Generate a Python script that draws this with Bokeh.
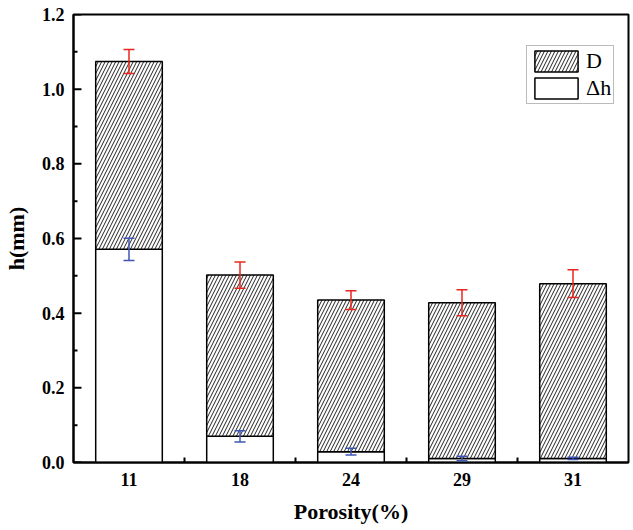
from bokeh.plotting import figure
from bokeh.models import (ColumnDataSource, Whisker, FixedTicker, Legend, LegendItem,
                          Range1d, TeeHead)
from bokeh.embed import file_html
from bokeh.resources import INLINE

# ---- data ----
porosity = ["11", "18", "24", "29", "31"]
dh = [0.571, 0.070, 0.029, 0.011, 0.011]          # Δh
dh_err = [0.030, 0.015, 0.009, 0.006, 0.003]
D = [0.503, 0.432, 0.406, 0.417, 0.468]            # D (stacked on Δh)
D_err = [0.032, 0.035, 0.025, 0.035, 0.037]
y_ticks = [0.0, 0.2, 0.4, 0.6, 0.8, 1.0, 1.2]
y_minor = [0.1, 0.3, 0.5, 0.7, 0.9, 1.1]
x_minor = [0.5, 1.5, 2.5, 3.5]

xs = list(range(len(porosity)))
total = [a + b for a, b in zip(dh, D)]

src = ColumnDataSource(dict(
    x=xs, dh=dh, total=total,
    dh_up=[a + e for a, e in zip(dh, dh_err)], dh_lo=[a - e for a, e in zip(dh, dh_err)],
    t_up=[a + e for a, e in zip(total, D_err)], t_lo=[a - e for a, e in zip(total, D_err)],
))

SERIF = "Liberation Serif"
X0, X1 = -0.5, 4.5
Y0, Y1 = 0.0, 1.2
W, H = 633, 530
BL, BR, BT, BB = 72, 5, 14, 68
px_x = (W - BL - BR) / (X1 - X0)     # pixels per x unit
px_y = (H - BT - BB) / (Y1 - Y0)     # pixels per y unit

p = figure(width=W, height=H, output_backend="svg", toolbar_location=None,
           x_range=Range1d(X0, X1), y_range=Range1d(Y0, Y1),
           min_border_left=BL, min_border_right=BR, min_border_top=BT, min_border_bottom=BB)
p.background_fill_color = "white"
p.border_fill_color = "white"
p.outline_line_color = "black"
p.outline_line_width = 2
p.xgrid.grid_line_color = None
p.ygrid.grid_line_color = None

r_dh = p.vbar(x="x", top="dh", bottom=0, width=0.6, source=src,
              fill_color="white", line_color="black", line_width=1.5)
r_D = p.vbar(x="x", top="total", bottom="dh", width=0.6, source=src,
             fill_color="white", line_color="black", line_width=1.5,
             hatch_pattern="/", hatch_scale=7, hatch_weight=1, hatch_color="#222222")

red = "#e8261e"
blue = "#3f56b5"
for up, lo, col in (("t_up", "t_lo", red), ("dh_up", "dh_lo", blue)):
    w = Whisker(base="x", upper=up, lower=lo, source=src, line_color=col, line_width=1.5,
                level="overlay",
                upper_head=TeeHead(size=11, line_color=col, line_width=1.5),
                lower_head=TeeHead(size=11, line_color=col, line_width=1.5))
    p.add_layout(w)

# inward ticks drawn as head-less whisker annotations (overlay level)
ymaj_src = ColumnDataSource(dict(y=y_ticks, lo=[X0] * len(y_ticks),
                                 hi=[X0 + 8 / px_x] * len(y_ticks)))
ymin_src = ColumnDataSource(dict(y=y_minor, lo=[X0] * len(y_minor),
                                 hi=[X0 + 4 / px_x] * len(y_minor)))
xmin_src = ColumnDataSource(dict(x=x_minor, lo=[Y0] * len(x_minor),
                                 hi=[Y0 + 5 / px_y] * len(x_minor)))
for s in (ymaj_src, ymin_src):
    p.add_layout(Whisker(base="y", lower="lo", upper="hi", source=s, dimension="width",
                         line_color="black", line_width=2, level="overlay",
                         upper_head=None, lower_head=None))
p.add_layout(Whisker(base="x", lower="lo", upper="hi", source=xmin_src, dimension="height",
                     line_color="black", line_width=2, level="overlay",
                     upper_head=None, lower_head=None))

# x axis
p.xaxis.ticker = FixedTicker(ticks=xs)
p.xaxis.major_label_overrides = {i: s for i, s in zip(xs, porosity)}
p.xaxis.axis_label = "Porosity(%)"

# y axis
p.yaxis.ticker = FixedTicker(ticks=y_ticks)
p.yaxis.major_label_overrides = {v: f"{v:.1f}" for v in y_ticks}
p.yaxis.axis_label = "h(mm)"

for ax in (p.xaxis[0], p.yaxis[0]):
    ax.major_tick_line_color = None
    ax.minor_tick_line_color = None
    ax.major_tick_in = 0
    ax.major_tick_out = 0
    ax.minor_tick_in = 0
    ax.minor_tick_out = 0
    ax.axis_line_width = 2
    ax.axis_line_color = "black"
    ax.major_label_text_font = SERIF
    ax.major_label_text_font_style = "bold"
    ax.major_label_text_font_size = "18px"
    ax.major_label_text_color = "black"
    ax.axis_label_text_font = SERIF
    ax.axis_label_text_font_style = "bold"
    ax.axis_label_text_font_size = "22px"
    ax.axis_label_text_color = "black"
p.xaxis.major_label_standoff = 10
p.xaxis.axis_label_standoff = 10
p.yaxis.major_label_standoff = 9
p.yaxis.axis_label_standoff = 10

legend = Legend(items=[LegendItem(label="D", renderers=[r_D]),
                       LegendItem(label="Δh", renderers=[r_dh])],
                location=(453, 358), orientation="vertical",
                glyph_width=54, glyph_height=26, label_standoff=3, spacing=1,
                padding=2, margin=0,
                border_line_color="#777777", border_line_width=1,
                label_text_font=SERIF, label_text_font_size="22px",
                label_text_color="black", background_fill_alpha=1)
p.add_layout(legend)

open("out.html", "w").write(file_html(p, INLINE))
